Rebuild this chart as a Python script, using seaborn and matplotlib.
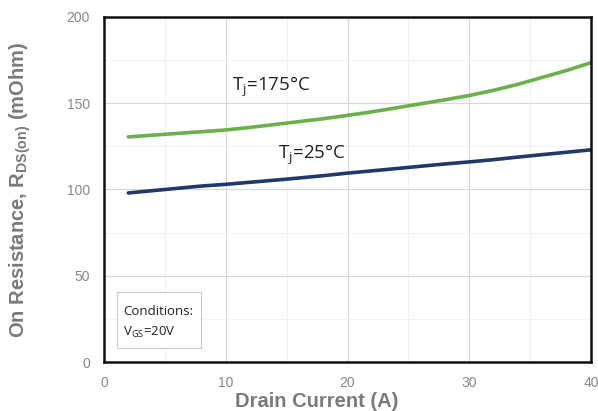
import numpy as np
import pandas as pd
import matplotlib.pyplot as plt
import seaborn as sns
from matplotlib.ticker import MultipleLocator
from matplotlib.patches import Rectangle

# values
current = [2, 5, 8, 10, 12, 15, 18, 20, 22, 25, 28, 30, 32, 34, 36, 38, 40]
rds_175 = [130.5, 132, 133.5, 134.5, 136, 138.5, 141, 143, 145, 148.5, 152, 154.5, 157.5, 161, 165, 169, 173.5]
rds_25 = [98, 100, 102, 103, 104.2, 106, 108, 109.5, 110.8, 112.8, 114.8, 116, 117.3, 118.8, 120.2, 121.6, 123]

df = pd.DataFrame({
    'current': current * 2,
    'rds': rds_175 + rds_25,
    'temp': ['175'] * len(current) + ['25'] * len(current),
})

sns.set_style('white')
plt.rcParams['font.family'] = ['Liberation Sans', 'DejaVu Sans']
note_font = ['Open Sans', 'DejaVu Sans']

fig = plt.figure(figsize=(5.98, 4.11), dpi=100)
ax = fig.add_axes([104 / 598, 49 / 411, 487 / 598, 345 / 411])

sns.lineplot(data=df, x='current', y='rds', hue='temp',
             palette={'175': '#6ab04c', '25': '#1f3a68'},
             linewidth=2.6, legend=False, ax=ax)

ax.set_xlim(0, 40)
ax.set_ylim(0, 200)
ax.xaxis.set_major_locator(MultipleLocator(10))
ax.yaxis.set_major_locator(MultipleLocator(50))
ax.xaxis.set_minor_locator(MultipleLocator(5))
ax.yaxis.set_minor_locator(MultipleLocator(25))
ax.grid(which='major', color='#d8d8d8', linewidth=0.8)
ax.grid(which='minor', color='#f0f0f0', linewidth=0.6)
ax.tick_params(which='both', length=0, labelsize=10, labelcolor='#888888', pad=10)
for s in ax.spines.values():
    s.set_color('#111111')
    s.set_linewidth(1.8)

ax.set_xlabel('Drain Current (A)', fontsize=14.5, fontweight='bold', color='#7a7a7a')
ax.set_ylabel(r'On Resistance, R$_\mathregular{DS(on)}$ (mOhm)', fontsize=14.5,
              fontweight='bold', color='#7a7a7a')
ax.xaxis.set_label_coords(0.436, -0.088)
ax.yaxis.set_label_coords(-0.145, 0.5)

ax.text(10.5, 159.5, r'T$_\mathregular{j}$=175°C', fontsize=13.5, family=note_font,
        color='#222222', va='center')
ax.text(14.3, 120, r'T$_\mathregular{j}$=25°C', fontsize=13.5, family=note_font,
        color='#222222', va='center')

ax.add_patch(Rectangle((1.1, 8.1), 6.9, 32.5, facecolor='white', edgecolor='#cccccc', linewidth=0.8, zorder=3))
ax.text(1.55, 29, 'Conditions:', fontsize=9.5, family=note_font, color='#222222', va='center', zorder=4)
ax.text(1.55, 17.4, r'V$_\mathregular{GS}$=20V', fontsize=9.5, family=note_font, color='#222222', va='center', zorder=4)

fig.savefig('out.png', dpi=100)
